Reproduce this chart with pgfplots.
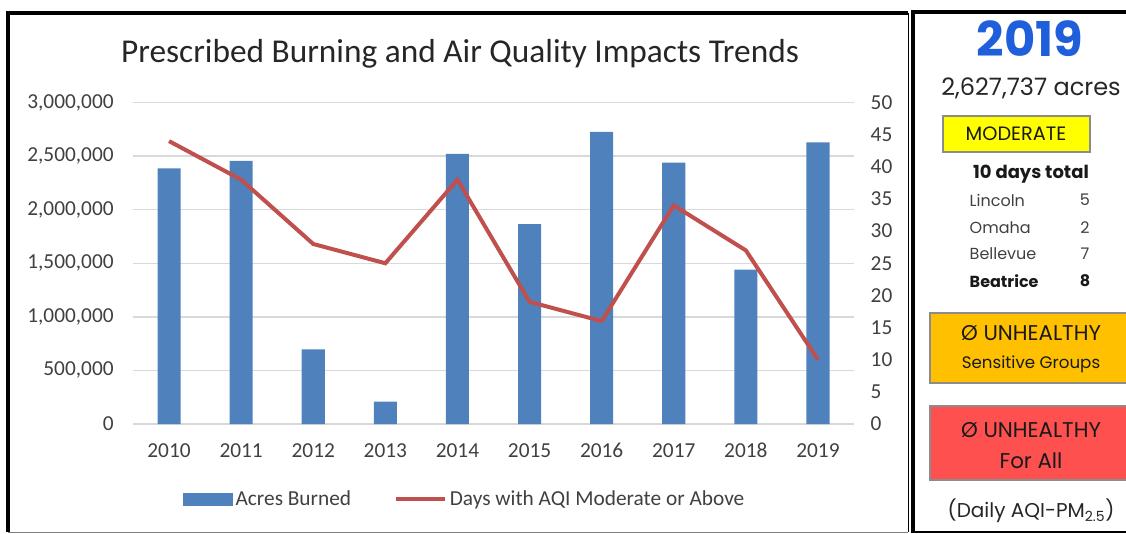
\documentclass[border=0pt]{standalone}
\usepackage{pgfplots}
\pgfplotsset{compat=1.18}
\usepackage{fontspec}
\setmainfont{Carlito}
\newfontfamily\gothic{Poppins}
\definecolor{barblue}{HTML}{4F81BD}
\definecolor{linered}{HTML}{C0504D}
\definecolor{gridgray}{HTML}{D9D9D9}
\definecolor{ticktext}{HTML}{404040}
\definecolor{yearblue}{HTML}{1F5FDB}
\definecolor{modyellow}{HTML}{FFFF00}
\definecolor{usgorange}{HTML}{FFC000}
\definecolor{unhred}{HTML}{FF5050}
\definecolor{boxedge}{HTML}{8C8C8C}
\newcommand{\fs}[1]{\fontsize{#1}{#1}\selectfont}
\begin{document}
\begin{tikzpicture}[x=0.75pt,y=-0.75pt]
\useasboundingbox (0,0) rectangle (1126,534);
% frames
\draw[black, line width=0.75pt] (908,13) -- (908,532);
\draw[gray, line width=0.75pt] (8,532) -- (908,532);
\draw[black, line width=3pt] (8,532) -- (8,13) -- (908,13);
\draw[black, line width=1.2pt] (913,532) -- (1130,532);
\draw[black, line width=3pt] (913,533) -- (913,12) -- (1130,12);
% title
\node[font=\fs{25}, text=black!85] at (460,54) {Prescribed Burning and Air Quality Impacts Trends};

\begin{axis}[
  at={(99.75pt,-318pt)}, anchor=south west,
  scale only axis, width=540.75pt, height=241.1pt,
  xmin=-0.5, xmax=9.5, ymin=0, ymax=3000000,
  xtick={0,...,9},
  xticklabels={2010,2011,2012,2013,2014,2015,2016,2017,2018,2019},
  ytick={0,500000,1000000,1500000,2000000,2500000,3000000},
  scaled y ticks=false,
  /pgf/number format/fixed,
  /pgf/number format/1000 sep={,},
  /pgf/number format/assume math mode=true,
  ymajorgrids, grid style={gridgray, line width=1pt},
  axis line style={draw=none},
  major tick length=0pt,
  tick label style={font=\fs{16}, text=ticktext},
  yticklabel style={xshift=-11pt},
  xticklabel style={yshift=-11pt},
]
\addplot[ybar, bar width=0.32, fill=barblue, draw=none] coordinates {
(0,2385000) (1,2455000) (2,697000) (3,208000) (4,2520000)
(5,1865000) (6,2725000) (7,2440000) (8,1440000) (9,2627737)};
\end{axis}

\begin{axis}[
  at={(99.75pt,-318pt)}, anchor=south west,
  scale only axis, width=540.75pt, height=241.1pt,
  xmin=-0.5, xmax=9.5, ymin=0, ymax=50,
  axis x line=none, axis y line*=right,
  ytick={0,5,...,50},
  /pgf/number format/assume math mode=true,
  axis line style={draw=none},
  major tick length=0pt,
  tick label style={font=\fs{16}, text=ticktext},
  yticklabel style={xshift=9pt},
  legend columns=2,
  legend style={draw=none, fill=none, at={(0.4605,-0.233)}, anchor=center,
    font=\fs{16}, text=ticktext,
    /tikz/every even column/.append style={column sep=30pt}},
]
\addlegendimage{legend image code/.code={\fill[barblue] (0pt,-4.5pt) rectangle (37pt,4.5pt);}}
\addlegendentry{Acres Burned}
\addplot[linered, line width=3pt, mark=none,
  legend image code/.code={\draw[linered, line width=3pt] (0pt,0pt) -- (37pt,0pt);}]
  coordinates {(0,44) (1,38) (2,28) (3,25) (4,38) (5,19) (6,16) (7,34) (8,27) (9,10)};
\addlegendentry{Days with AQI Moderate or Above}
\end{axis}

% side panel
\node[font=\gothic\bfseries\fs{36}, text=yearblue] at (1030,39) {2019};
\node[font=\gothic\fs{18}, text=black!85] at (1031,88) {2,627,737 acres};
\draw[boxedge, fill=modyellow, line width=1pt] (943,116) rectangle (1090,152);
\node[font=\gothic\fs{14.5}, text=black!90] at (1016,134) {MODERATE};
\node[font=\gothic\bfseries\fs{13.5}, text=black!90] at (1031,174) {10 days total};
\node[font=\gothic\fs{12}, text=black!75, anchor=west] at (965,200) {Lincoln};
\node[font=\gothic\fs{12}, text=black!75] at (1085,200) {5};
\node[font=\gothic\fs{12}, text=black!75, anchor=west] at (965,228) {Omaha};
\node[font=\gothic\fs{12}, text=black!75] at (1085,228) {2};
\node[font=\gothic\fs{12}, text=black!75, anchor=west] at (965,254) {Bellevue};
\node[font=\gothic\fs{12}, text=black!75] at (1085,254) {7};
\node[font=\gothic\bfseries\fs{12}, text=black!90, anchor=west] at (965,281) {Beatrice};
\node[font=\gothic\bfseries\fs{12}, text=black!90] at (1085,281) {8};
\draw[boxedge, fill=usgorange, line width=1pt] (930,313) rectangle (1132,383);
\node[font=\gothic\fs{16}, text=black!90] at (1031,333) {Ø UNHEALTHY};
\node[font=\gothic\fs{12.5}, text=black!90] at (1031,364) {Sensitive Groups};
\draw[boxedge, fill=unhred, line width=1pt] (930,406) rectangle (1132,480);
\node[font=\gothic\fs{16}, text=black!90] at (1031,430) {Ø UNHEALTHY};
\node[font=\gothic\fs{16}, text=black!90] at (1031,461) {For All};
\node[font=\gothic\fs{15}, text=black!85] at (1031,511) {(Daily AQI-PM\textsubscript{2.5})};
\end{tikzpicture}
\end{document}
